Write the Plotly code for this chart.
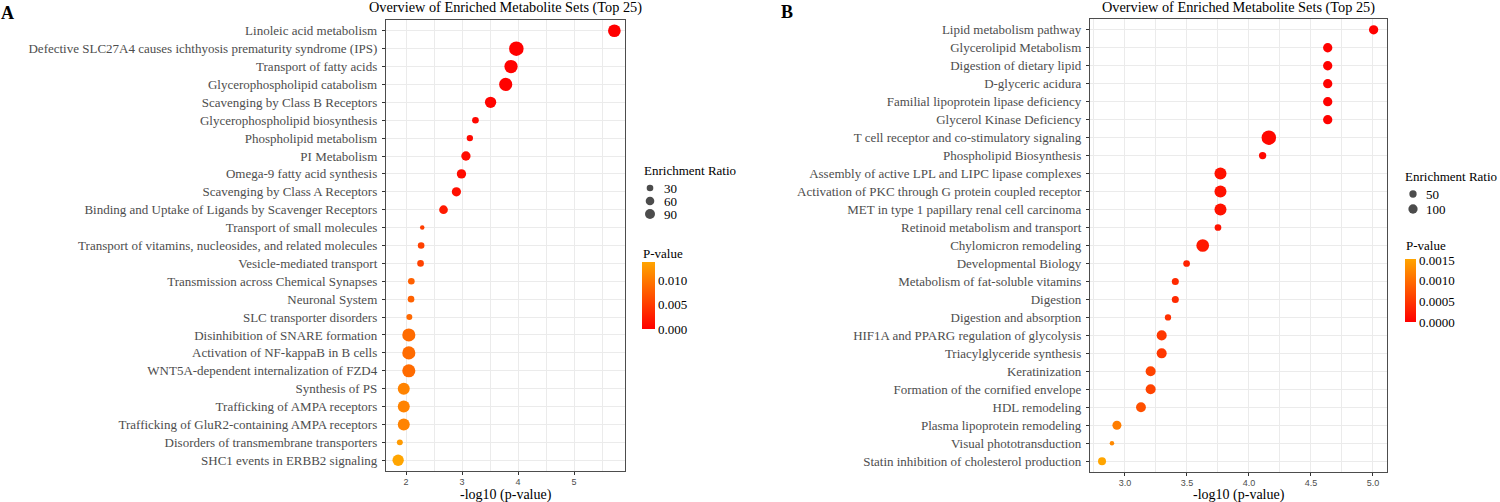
import numpy as np
import plotly.graph_objects as go

W, H = 1500, 502

# ---------------- Panel A data ----------------
a_sets = [
    "Linoleic acid metabolism",
    "Defective SLC27A4 causes ichthyosis prematurity syndrome (IPS)",
    "Transport of fatty acids",
    "Glycerophospholipid catabolism",
    "Scavenging by Class B Receptors",
    "Glycerophospholipid biosynthesis",
    "Phospholipid metabolism",
    "PI Metabolism",
    "Omega-9 fatty acid synthesis",
    "Scavenging by Class A Receptors",
    "Binding and Uptake of Ligands by Scavenger Receptors",
    "Transport of small molecules",
    "Transport of vitamins, nucleosides, and related molecules",
    "Vesicle-mediated transport",
    "Transmission across Chemical Synapses",
    "Neuronal System",
    "SLC transporter disorders",
    "Disinhibition of SNARE formation",
    "Activation of NF-kappaB in B cells",
    "WNT5A-dependent internalization of FZD4",
    "Synthesis of PS",
    "Trafficking of AMPA receptors",
    "Trafficking of GluR2-containing AMPA receptors",
    "Disorders of transmembrane transporters",
    "SHC1 events in ERBB2 signaling",
]
a_neglog10p = [5.72, 3.97, 3.875, 3.78, 3.51, 3.24, 3.14, 3.07, 2.99, 2.90,
               2.67, 2.29, 2.27, 2.26, 2.095, 2.09, 2.06, 2.05, 2.05, 2.05,
               1.96, 1.96, 1.96, 1.89, 1.86]
a_ratio = [178, 256, 202, 195, 129, 30, 27, 74, 74, 72,
           61, 19, 30, 30, 30, 30, 24, 195, 195, 195,
           152, 152, 152, 24, 129]
a_size_breaks = [30, 60, 90]
a_p_tickvals = [0.000, 0.005, 0.010]
a_p_ticktext = ["0.000", "0.005", "0.010"]
a_x_ticks = [2, 3, 4, 5]

# ---------------- Panel B data ----------------
b_sets = [
    "Lipid metabolism pathway",
    "Glycerolipid Metabolism",
    "Digestion of dietary lipid",
    "D-glyceric acidura",
    "Familial lipoprotein lipase deficiency",
    "Glycerol Kinase Deficiency",
    "T cell receptor and co-stimulatory signaling",
    "Phospholipid Biosynthesis",
    "Assembly of active LPL and LIPC lipase complexes",
    "Activation of PKC through G protein coupled receptor",
    "MET in type 1 papillary renal cell carcinoma",
    "Retinoid metabolism and transport",
    "Chylomicron remodeling",
    "Developmental Biology",
    "Metabolism of fat-soluble vitamins",
    "Digestion",
    "Digestion and absorption",
    "HIF1A and PPARG regulation of glycolysis",
    "Triacylglyceride synthesis",
    "Keratinization",
    "Formation of the cornified envelope",
    "HDL remodeling",
    "Plasma lipoprotein remodeling",
    "Visual phototransduction",
    "Statin inhibition of cholesterol production",
]
b_neglog10p = [5.005, 4.635, 4.635, 4.635, 4.635, 4.635, 4.16, 4.11, 3.77, 3.77,
               3.77, 3.75, 3.627, 3.497, 3.406, 3.406, 3.347, 3.296, 3.296, 3.207,
               3.207, 3.129, 2.935, 2.895, 2.815]
b_ratio = [100, 100, 100, 100, 100, 100, 353, 50, 209, 209,
           209, 40, 245, 40, 45, 45, 35, 124, 124, 124,
           124, 118, 91, 24, 64]
b_size_breaks = [50, 100]
b_p_tickvals = [0.0000, 0.0005, 0.0010, 0.0015]
b_p_ticktext = ["0.0000", "0.0005", "0.0010", "0.0015"]
b_x_ticks = [3.0, 3.5, 4.0, 4.5, 5.0]

# ---------------- styling ----------------
SERIF = "Liberation Serif, Times New Roman, serif"
SANS = "Liberation Sans, Arial, sans-serif"
GRID = "#EBEBEB"
TICKTXT = "#4D4D4D"
BORDER = "#4D4D4D"
CSCALE = [[0.0, "#FF0000"], [1.0, "#FFA500"]]


def px_x(p):
    return p / W


def px_y(p):
    return 1 - p / H


def size_scale(values, lo, hi, dmin=4.5, dmax=14.5):
    v = np.asarray(values, dtype=float)
    t = np.clip((v - lo) / (hi - lo), 0, 1)
    return dmin + (dmax - dmin) * np.sqrt(t)


fig = go.Figure()


def add_panel(sets, neglogp, ratio, breaks, tickvals, ticktext, xa, ya, lxa, lya,
              cb_x, cb_y, cb_len, cb_thick, label_x):
    pvals = 10.0 ** (-np.asarray(neglogp, dtype=float))
    lo, hi = min(ratio), max(ratio)
    sizes = size_scale(ratio, lo, hi)
    fig.add_trace(go.Scatter(
        x=neglogp, y=sets, mode="markers",
        xaxis=xa, yaxis=ya, showlegend=False,
        marker=dict(
            size=sizes, color=pvals, colorscale=CSCALE,
            cmin=0.0, cmax=pvals.max(), opacity=1,
            line=dict(width=0),
            colorbar=dict(
                x=cb_x, xanchor="left", y=cb_y, yanchor="middle",
                lenmode="pixels", len=cb_len, thickness=cb_thick,
                xpad=0, ypad=0, outlinewidth=0,
                tickvals=tickvals, ticktext=ticktext, ticks="",
                tickfont=dict(family=SERIF, size=13, color="black"),
            ),
        ),
        hovertemplate="%{y}<br>-log10 p = %{x}<extra></extra>",
    ))
    # size key: breaks drawn through a small hidden axis pair
    bsizes = size_scale(breaks, lo, hi)
    fig.add_trace(go.Scatter(
        x=[0] * len(breaks), y=breaks, mode="markers",
        xaxis=lxa, yaxis=lya, showlegend=False, hoverinfo="skip",
        marker=dict(size=bsizes, color="black", line=dict(width=0)),
    ))
    lx_name = "x" + lxa[1:]
    ly_name = "y" + lya[1:]
    for b in breaks:
        fig.add_annotation(xref=lx_name, yref=ly_name, x=label_x, y=b, text=str(b),
                           xanchor="left", yanchor="middle", showarrow=False,
                           font=dict(family=SERIF, size=13, color="black"))


add_panel(a_sets, a_neglog10p, a_ratio, a_size_breaks, a_p_tickvals, a_p_ticktext,
          "x", "y", "x3", "y3", px_x(642), px_y(295.5), 67, 13, 1.2)
add_panel(b_sets, b_neglog10p, b_ratio, b_size_breaks, b_p_tickvals, b_p_ticktext,
          "x2", "y2", "x4", "y4", px_x(1405), px_y(290.5), 63, 11, 1.1)


def xaxis_style(domain, rng, ticks, ticktext, minor_dtick, anchor):
    return dict(
        domain=domain, range=rng, tickmode="array", tickvals=ticks, ticktext=ticktext,
        showgrid=True, gridcolor=GRID, gridwidth=1,
        minor=dict(tickmode="linear", dtick=minor_dtick, tick0=0, showgrid=True,
                   gridcolor=GRID, gridwidth=0.6, ticks=""),
        ticks="outside", ticklen=3, tickcolor="#333333", tickwidth=1,
        tickfont=dict(family=SANS, size=9, color=TICKTXT), ticklabelstandoff=-1,
        showline=True, mirror=True, linecolor=BORDER, linewidth=1.3,
        zeroline=False, fixedrange=True, automargin=False, anchor=anchor,
    )


def yaxis_style(domain, sets, anchor):
    return dict(
        domain=domain, type="category", categoryorder="array",
        categoryarray=list(reversed(sets)), range=[-0.6, len(sets) - 0.4],
        showgrid=True, gridcolor=GRID, gridwidth=1,
        ticks="outside", ticklen=3, tickcolor="#333333", tickwidth=1,
        tickfont=dict(family=SERIF, size=13, color=TICKTXT),
        showline=True, mirror=True, linecolor=BORDER, linewidth=1.3,
        zeroline=False, fixedrange=True, anchor=anchor, ticklabelstandoff=2,
        automargin=False,
    )


def key_axis(domain, rng, anchor):
    return dict(domain=domain, range=rng, visible=False, fixedrange=True,
                automargin=False, anchor=anchor, showgrid=False, zeroline=False)


a_dom_x = [px_x(386), px_x(625)]
a_dom_y = [px_y(471), px_y(20)]
b_dom_x = [px_x(1090), px_x(1387)]
b_dom_y = [px_y(472), px_y(19)]

fig.update_layout(
    width=W, height=H, margin=dict(l=0, r=0, t=0, b=0, autoexpand=False),
    paper_bgcolor="white", plot_bgcolor="white", showlegend=False,
    xaxis=xaxis_style(a_dom_x, [1.643, 5.91], a_x_ticks, [str(t) for t in a_x_ticks], 0.5, "y"),
    yaxis=yaxis_style(a_dom_y, a_sets, "x"),
    xaxis2=xaxis_style(b_dom_x, [2.718, 5.113], b_x_ticks, [f"{t:.1f}" for t in b_x_ticks], 0.25, "y2"),
    yaxis2=yaxis_style(b_dom_y, b_sets, "x2"),
    # size keys
    xaxis3=key_axis([px_x(640), px_x(700)], [-1, 5], "y3"),
    yaxis3=key_axis([px_y(224), px_y(178)], [113.08, 6.92], "x3"),
    xaxis4=key_axis([px_x(1403), px_x(1463)], [-1, 5], "y4"),
    yaxis4=key_axis([px_y(219), px_y(184)], [133.33, 16.67], "x4"),
)

annots = [
    dict(text="Overview of Enriched Metabolite Sets (Top 25)", x=sum(a_dom_x) / 2, y=px_y(8),
         font=dict(family=SERIF, size=14.3, color="black")),
    dict(text="Overview of Enriched Metabolite Sets (Top 25)", x=sum(b_dom_x) / 2, y=px_y(8),
         font=dict(family=SERIF, size=14.3, color="black")),
    dict(text="-log10 (p-value)", x=sum(a_dom_x) / 2, y=px_y(494.5),
         font=dict(family=SERIF, size=14, color="black")),
    dict(text="-log10 (p-value)", x=sum(b_dom_x) / 2, y=px_y(494.5),
         font=dict(family=SERIF, size=14, color="black")),
    dict(text="<b>A</b>", x=px_x(7), y=px_y(13), font=dict(family=SERIF, size=18, color="black")),
    dict(text="<b>B</b>", x=px_x(787), y=px_y(12), font=dict(family=SERIF, size=18, color="black")),
    dict(text="Enrichment Ratio", x=px_x(642), y=px_y(171), xanchor="left",
         font=dict(family=SERIF, size=13, color="black")),
    dict(text="Enrichment Ratio", x=px_x(1403), y=px_y(176), xanchor="left",
         font=dict(family=SERIF, size=13, color="black")),
    dict(text="P-value", x=px_x(641), y=px_y(253), xanchor="left",
         font=dict(family=SERIF, size=13, color="black")),
    dict(text="P-value", x=px_x(1404), y=px_y(245), xanchor="left",
         font=dict(family=SERIF, size=13, color="black")),
]
for a in annots:
    a.setdefault("xanchor", "center")
    fig.add_annotation(xref="paper", yref="paper", yanchor="middle", showarrow=False, **a)

fig.write_html("out.html", config={"displayModeBar": False},
               post_script="document.body.style.margin='0';document.body.style.padding='0';")
